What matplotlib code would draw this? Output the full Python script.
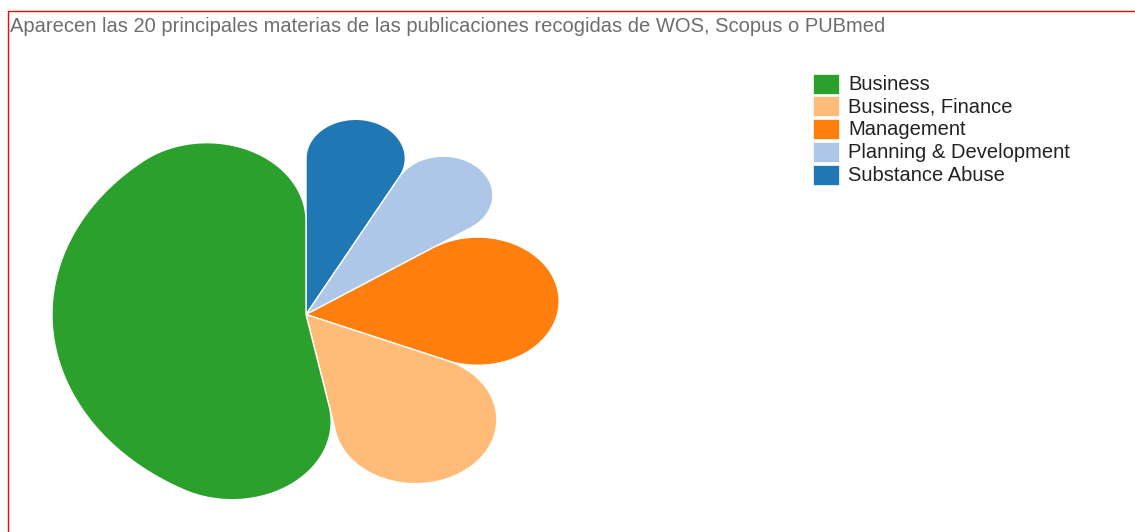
import numpy as np
import matplotlib
matplotlib.use("Agg")
import matplotlib.pyplot as plt
from matplotlib.patches import Rectangle

# data (legend order)
categories = ["Business", "Business, Finance", "Management",
              "Planning & Development", "Substance Abuse"]
values = [34, 10, 10, 5, 5]
colors = ["#2ca02c", "#ffbb78", "#ff7f0e", "#aec7e8", "#1f77b4"]
title = "Aparecen las 20 principales materias de las publicaciones recogidas de WOS, Scopus o PUBmed"

# layout (pixels)
W, H = 1135, 532
cx, cy = 306, 314.5     # pie centre
R = 200                 # outer radius (vertical px)
corner = 78             # corner radius
sx = 1.27               # horizontal stretch of the original screenshot


def petal(a0, a1, n=80):
    """rounded pie sector (d3-style cornerRadius), angles clockwise from north"""
    da = a1 - a0
    rc = min(corner, R / 2)
    if da < np.pi:
        s = np.sin(da / 2)
        rc = min(rc, R * s / (1 + s))
    d = R - rc
    delta = min(np.arcsin(rc / d), da / 2)
    pts = [(0.0, 0.0)]
    # start corner
    c0 = a0 + delta
    t = np.linspace(a0 - np.pi / 2, c0, n)
    pts += list(zip(d * np.sin(c0) + rc * np.sin(t), d * np.cos(c0) + rc * np.cos(t)))
    # outer arc
    c1 = a1 - delta
    if c1 > c0:
        t = np.linspace(c0, c1, n * 2)
        pts += list(zip(R * np.sin(t), R * np.cos(t)))
    # end corner
    t = np.linspace(c1, a1 + np.pi / 2, n)
    pts += list(zip(d * np.sin(c1) + rc * np.sin(t), d * np.cos(c1) + rc * np.cos(t)))
    pts.append((0.0, 0.0))
    pts = np.array(pts)
    return cx + sx * pts[:, 0], cy - pts[:, 1]


fig = plt.figure(figsize=(W / 100, H / 100), dpi=100)
ax = fig.add_axes([0, 0, 1, 1])
ax.set_xlim(0, W)
ax.set_ylim(H, 0)
ax.axis("off")

# red frame
ax.plot([7.5, 7.5, W], [H, 10.5, 10.5], color="red", lw=1.0, solid_capstyle="butt")

ax.text(10, 27, title, color="#6e6e6e", fontsize=14.5, family="Liberation Sans",
        va="center", ha="left")

# pie sorted ascending, clockwise from north
order = sorted(range(len(values)), key=lambda i: (values[i], -i))
total = float(sum(values))
a = 0.0
for i in order:
    a_end = a + values[i] / total * 2 * np.pi
    x, y = petal(a, a_end)
    ax.fill(x, y, color=colors[i], ec="white", lw=1.0)
    a = a_end

# legend
for k, (name, col) in enumerate(zip(categories, colors)):
    yc = 83.5 + k * 22.9
    ax.add_patch(Rectangle((813, yc - 10), 26, 20, color=col, ec="white", lw=0.5))
    ax.text(848, yc + 0.5, name, color="#222222", fontsize=14.5,
            family="Liberation Sans", va="center", ha="left")

fig.savefig("out.png", dpi=100)
